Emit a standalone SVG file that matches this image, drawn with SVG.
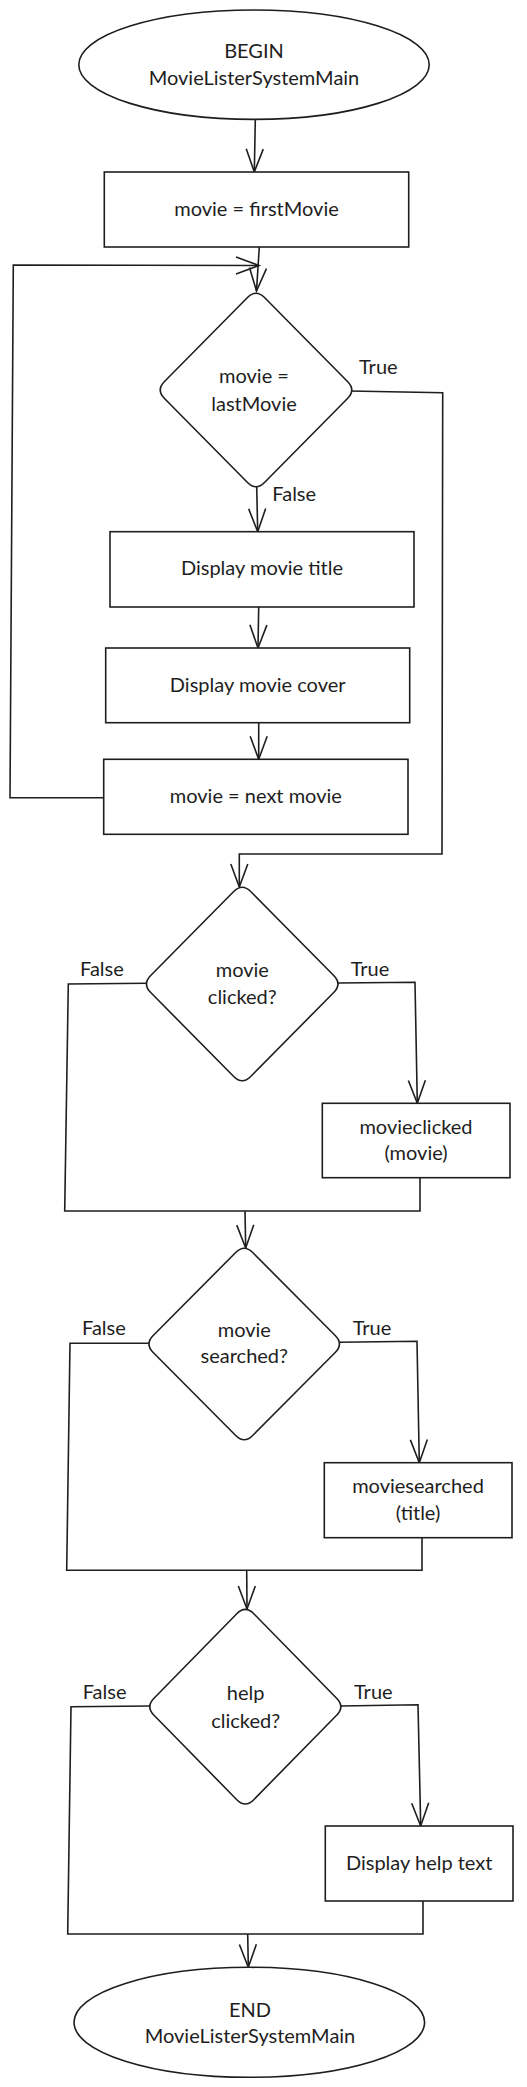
<svg xmlns="http://www.w3.org/2000/svg" width="527" height="2087" viewBox="0 0 527 2087">
<style>
.shape{fill:#ffffff;stroke:#1e1e1e;stroke-width:1.6}
.conn{fill:none;stroke:#1e1e1e;stroke-width:1.6;stroke-linejoin:miter}
.arr{marker-end:url(#ah)}
text{font-family:"Lato","Noto Sans",sans-serif;font-size:20px;fill:#1e1e1e}
.c{text-anchor:middle}
</style>
<defs>
<marker id="ah" markerUnits="userSpaceOnUse" viewBox="-26 -11 28 22" markerWidth="28" markerHeight="22" refX="0" refY="0" orient="auto" overflow="visible">
<path d="M-23,-8.5 L0,0 L-23,8.5" fill="none" stroke="#1e1e1e" stroke-width="1.6"/>
</marker>
</defs>
<rect width="527" height="2087" fill="#ffffff"/>
<g id="connectors">
<polyline class="conn arr" points="255.3,119.5 254.3,172"/>
<polyline class="conn arr" points="259.3,247 256.5,291"/>
<polyline class="conn arr" points="103.7,797.7 10,797.7 13.3,265 259,265.5"/>
<polyline class="conn arr" points="349.5,391 442.7,392.7 442,854 239.3,854 239.3,887"/>
<polyline class="conn arr" points="256.7,487 257.7,531.7"/>
<polyline class="conn arr" points="258.7,607 258,648"/>
<polyline class="conn arr" points="258.7,722.7 258.7,759.3"/>
<polyline class="conn" points="146.7,983.3 68.3,984 64.7,1211 420,1211 420,1177.7"/>
<polyline class="conn arr" points="245,1211 245.7,1248"/>
<polyline class="conn arr" points="337.7,983 415,982.3 417.3,1103.3"/>
<polyline class="conn" points="149,1343.3 70,1343.3 66.7,1570.3 422,1570.3 422,1537.7"/>
<polyline class="conn arr" points="246.7,1570.3 247,1609"/>
<polyline class="conn arr" points="339.3,1342.3 417,1341.3 419.3,1462.7"/>
<polyline class="conn" points="150,1706 71,1706.7 67.7,1934 423,1934 423,1901"/>
<polyline class="conn arr" points="247.7,1934 248.3,1967.3"/>
<polyline class="conn arr" points="340.7,1706 418,1704.7 420.7,1826"/>
<text x="359" y="374.3">True</text>
<text x="272.3" y="500.7">False</text>
<text x="80" y="975.7">False</text>
<text x="350.7" y="975.7">True</text>
<text x="82" y="1335">False</text>
<text x="352.7" y="1335">True</text>
<text x="82.7" y="1699.3">False</text>
<text x="354" y="1699.3">True</text>
</g>
<g id="begin">
<ellipse class="shape" cx="254" cy="64.7" rx="175.2" ry="54.7"/>
<text class="c" x="254" y="58.3">BEGIN</text>
<text class="c" x="254" y="85">MovieListerSystemMain</text>
</g>
<g id="init">
<rect class="shape" x="104.3" y="172" width="304.4" height="75"/>
<text class="c" x="256.5" y="216">movie = firstMovie</text>
</g>
<g id="d-last">
<path class="shape" d="M247.5,297.5 Q256,289 264.5,297.5 L347.5,381.5 Q356,390 347.5,398.5 L264.5,482.5 Q256,491 247.5,482.5 L164.5,398.5 Q156,390 164.5,381.5 Z"/>
<text class="c" x="254" y="383.3">movie =</text>
<text class="c" x="254" y="410.7">lastMovie</text>
</g>
<g id="title">
<rect class="shape" x="110" y="531.7" width="304" height="75.3"/>
<text class="c" x="262" y="575">Display movie title</text>
</g>
<g id="cover">
<rect class="shape" x="105.7" y="648" width="304" height="74.7"/>
<text class="c" x="257.7" y="691.7">Display movie cover</text>
</g>
<g id="next">
<rect class="shape" x="103.7" y="759.3" width="304.3" height="75"/>
<text class="c" x="255.8" y="803.3">movie = next movie</text>
</g>
<g id="d-clicked">
<path class="shape" d="M233.7,891.5 Q242.2,883 250.7,891.5 L333.7,975.5 Q342.2,984 333.7,992.5 L250.7,1076.5 Q242.2,1085 233.7,1076.5 L150.7,992.5 Q142.2,984 150.7,975.5 Z"/>
<text class="c" x="242.3" y="977.3">movie</text>
<text class="c" x="242.3" y="1004">clicked?</text>
</g>
<g id="movieclicked">
<rect class="shape" x="322.3" y="1103.3" width="187.7" height="74.4"/>
<text class="c" x="416" y="1134">movieclicked</text>
<text class="c" x="416" y="1160">(movie)</text>
</g>
<g id="d-searched">
<path class="shape" d="M235.7,1252.5 Q244.2,1244 252.7,1252.5 L335.2,1335.5 Q343.7,1344 335.2,1352.5 L252.7,1435.5 Q244.2,1444 235.7,1435.5 L153.2,1352.5 Q144.7,1344 153.2,1335.5 Z"/>
<text class="c" x="244.3" y="1336.7">movie</text>
<text class="c" x="244.3" y="1363.3">searched?</text>
</g>
<g id="moviesearched">
<rect class="shape" x="324.3" y="1462.7" width="187.7" height="75"/>
<text class="c" x="418" y="1492.7">moviesearched</text>
<text class="c" x="418" y="1520">(title)</text>
</g>
<g id="d-help">
<path class="shape" d="M236.8,1613.7 Q245.3,1605.2 253.8,1613.7 L336.6,1698.2 Q345.1,1706.7 336.6,1715.2 L253.8,1799.7 Q245.3,1808.2 236.8,1799.7 L154,1715.2 Q145.5,1706.7 154,1698.2 Z"/>
<text class="c" x="245.7" y="1700">help</text>
<text class="c" x="245.7" y="1727.7">clicked?</text>
</g>
<g id="helptext">
<rect class="shape" x="325.3" y="1826" width="187.7" height="75"/>
<text class="c" x="419.2" y="1870">Display help text</text>
</g>
<g id="end">
<ellipse class="shape" cx="249.3" cy="2022.3" rx="175.3" ry="55"/>
<text class="c" x="250" y="2016.7">END</text>
<text class="c" x="250" y="2043.3">MovieListerSystemMain</text>
</g>
</svg>
